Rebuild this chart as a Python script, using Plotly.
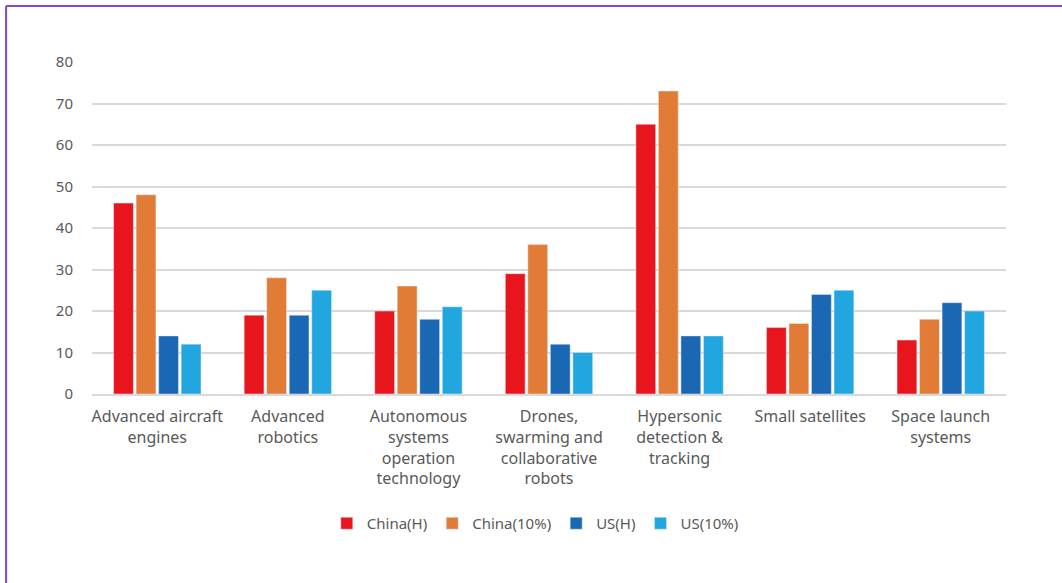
import plotly.graph_objects as go

categories = [
    "Advanced aircraft<br>engines",
    "Advanced<br>robotics",
    "Autonomous<br>systems<br>operation<br>technology",
    "Drones,<br>swarming and<br>collaborative<br>robots",
    "Hypersonic<br>detection &<br>tracking",
    "Small satellites",
    "Space launch<br>systems",
]
china_h = [46, 19, 20, 29, 65, 16, 13]
china_10 = [48, 28, 26, 36, 73, 17, 18]
us_h = [14, 19, 18, 12, 14, 24, 22]
us_10 = [12, 25, 21, 10, 14, 25, 20]

series = [
    ("China(H)", china_h, "#E8151D"),
    ("China(10%)", china_10, "#E27B36"),
    ("US(H)", us_h, "#1A68B3"),
    ("US(10%)", us_10, "#22A6E0"),
]

fig = go.Figure()
for name, vals, color in series:
    fig.add_trace(go.Bar(x=categories, y=vals, name=name, marker_color=color))

font_family = "Noto Sans"
text_color = "#595959"

fig.update_layout(
    width=1062,
    height=583,
    margin=dict(l=92, r=56, t=62, b=189),
    paper_bgcolor="white",
    plot_bgcolor="white",
    barmode="group",
    bargap=0.31,
    bargroupgap=0.12,
    font=dict(family=font_family, size=14, color=text_color),
    legend=dict(
        orientation="h",
        x=0.485,
        xanchor="center",
        y=-0.39,
        yanchor="middle",
        font=dict(size=15, color=text_color),
        itemwidth=30,
        traceorder="normal",
    ),
    xaxis=dict(
        showgrid=False,
        showline=True,
        linecolor="#D9D9D9",
        linewidth=1.5,
        ticks="outside",
        ticklen=7,
        tickcolor="rgba(0,0,0,0)",
        tickfont=dict(size=16, color=text_color),
        tickangle=0,
    ),
    yaxis=dict(
        range=[0, 80],
        dtick=10,
        showgrid=True,
        gridcolor="#D9D9D9",
        gridwidth=1.5,
        zeroline=False,
        showline=False,
        ticks="outside",
        ticklen=15,
        tickcolor="rgba(0,0,0,0)",
        tickfont=dict(size=15, color=text_color),
    ),
    shapes=[
        dict(type="line", xref="paper", yref="paper",
             x0=-0.094, x1=-0.094, y0=-0.6, y1=1.169,
             line=dict(color="#7E4CC0", width=2)),
        dict(type="line", xref="paper", yref="paper",
             x0=-0.094, x1=1.07, y0=1.169, y1=1.169,
             line=dict(color="#7E4CC0", width=2)),
    ],
)

fig.write_html("out.html")
